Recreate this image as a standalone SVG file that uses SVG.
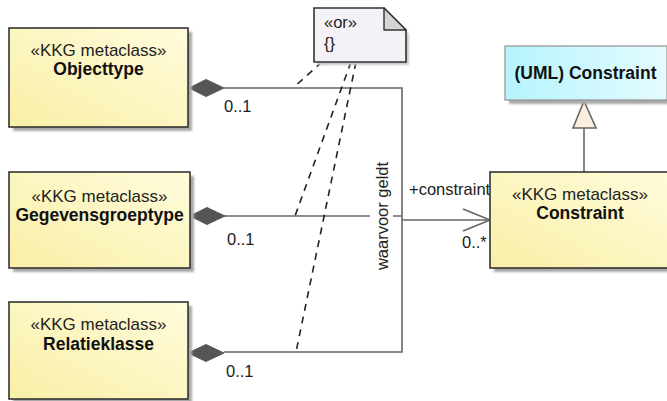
<svg xmlns="http://www.w3.org/2000/svg" width="667" height="401" viewBox="0 0 667 401">
  <defs>
    <linearGradient id="classFill" x1="0" y1="1" x2="1" y2="0">
      <stop offset="0" stop-color="#f9efa6"/>
      <stop offset="1" stop-color="#fffcdc"/>
    </linearGradient>
    <linearGradient id="umlFill" x1="0" y1="0" x2="1" y2="0">
      <stop offset="0" stop-color="#b6f4fd"/>
      <stop offset="1" stop-color="#e4fbff"/>
    </linearGradient>
    <filter id="soft" x="-10%" y="-10%" width="130%" height="130%">
      <feGaussianBlur stdDeviation="1"/>
    </filter>
  </defs>
  <style>
    .box { fill: url(#classFill); stroke: #333; stroke-width: 1.6; }
    .shadow { fill: #a8a8a8; filter: url(#soft); }
    .stereo { font-family: "Liberation Sans", Arial, sans-serif; font-size: 17px; fill: #222; text-anchor: middle; }
    .name { font-family: "Liberation Sans", Arial, sans-serif; font-size: 17.5px; font-weight: bold; fill: #111; text-anchor: middle; }
    .lbl { font-family: "Liberation Sans", Arial, sans-serif; font-size: 16.5px; fill: #222; }
    .assoc { fill: none; stroke: #666; stroke-width: 1.6; }
    .diamond { fill: #555; stroke: #555; stroke-width: 1; }
    .dash { fill: none; stroke: #222; stroke-width: 1.6; stroke-dasharray: 7 6; }
  </style>

  <rect width="667" height="401" fill="#ffffff"/>

  <!-- associations and constraint links -->
  <g id="connectors">
    <!-- aggregation branches merging into one trunk -->
    <polyline class="assoc" points="224,88 402,88 402,352 224,352"/>
    <line class="assoc" x1="224" y1="216" x2="402" y2="216"/>
    <line class="assoc" x1="402" y1="220" x2="490" y2="220"/>
    <polyline class="assoc" points="463,209 490,220 463,231"/>
    <!-- composite diamonds -->
    <polygon class="diamond" points="189,88 206,79.5 224,88 206,96.5"/>
    <polygon class="diamond" points="190,216 207,207.5 225,216 207,224.5"/>
    <polygon class="diamond" points="188,353 206,344.5 224,353 206,361.5"/>
    <!-- role name label on the shared association -->
    <rect x="370" y="160" width="23" height="112" fill="#ffffff"/>
    <text class="lbl" transform="translate(388,216) rotate(-90)" text-anchor="middle" font-size="17">waarvoor geldt</text>
    <text class="lbl" x="224" y="111.5">0..1</text>
    <text class="lbl" x="227" y="245">0..1</text>
    <text class="lbl" x="226" y="377">0..1</text>
    <text class="lbl" x="409" y="195" font-size="16">+constraint</text>
    <text class="lbl" x="462" y="248">0..*</text>
    <!-- generalization -->
    <line class="assoc" x1="584" y1="128" x2="584" y2="172"/>
    <polygon points="584,101 596,128 573,128" fill="#fbeede" stroke="#666" stroke-width="1.6"/>
    <!-- xor constraint anchors -->
    <line class="dash" x1="322" y1="62" x2="293" y2="88"/>
    <line class="dash" x1="351" y1="62" x2="295" y2="216"/>
    <line class="dash" x1="356" y1="62" x2="296" y2="352"/>
  </g>

  <g id="objecttype">
    <rect class="shadow" x="13" y="32" width="179" height="99"/>
    <rect class="box" x="9" y="28" width="179" height="99"/>
    <text class="stereo" x="98.5" y="56">«KKG metaclass»</text>
    <text class="name" x="98.5" y="75">Objecttype</text>
  </g>

  <g id="gegevensgroeptype">
    <rect class="shadow" x="13" y="176" width="181" height="96"/>
    <rect class="box" x="9" y="172" width="181" height="96"/>
    <text class="stereo" x="99.5" y="202">«KKG metaclass»</text>
    <text class="name" x="99.5" y="221">Gegevensgroeptype</text>
  </g>

  <g id="relatieklasse">
    <rect class="shadow" x="13" y="306" width="179" height="97"/>
    <rect class="box" x="9" y="302" width="179" height="97"/>
    <text class="stereo" x="98.5" y="330">«KKG metaclass»</text>
    <text class="name" x="98.5" y="350">Relatieklasse</text>
  </g>

  <g id="constraint">
    <rect class="shadow" x="494" y="176" width="180" height="96"/>
    <rect class="box" x="490" y="172" width="180" height="96"/>
    <text class="stereo" x="580" y="199.5">«KKG metaclass»</text>
    <text class="name" x="580" y="218.5">Constraint</text>
  </g>

  <g id="uml-constraint">
    <rect class="shadow" x="509" y="50" width="162" height="54"/>
    <rect x="505" y="46" width="162" height="54" fill="url(#umlFill)" stroke="#999" stroke-width="1.3"/>
    <text class="name" x="585.5" y="78.5">(UML) Constraint</text>
  </g>

  <g id="or-note">
    <path d="M317,11 H386 L409,34 V65 H317 Z" fill="#c8c8c8" filter="url(#soft)"/>
    <path d="M314,8 H384 L406,30 V62 H314 Z" fill="#f4f2f6" stroke="#333" stroke-width="1.6"/>
    <path d="M384,8 V30 H406 Z" fill="#d4d4d6" stroke="#333" stroke-width="1.4" stroke-linejoin="round"/>
    <text class="lbl" x="324" y="28" font-size="14">«or»</text>
    <text class="lbl" x="324" y="49" font-size="14">{}</text>
  </g>
</svg>
